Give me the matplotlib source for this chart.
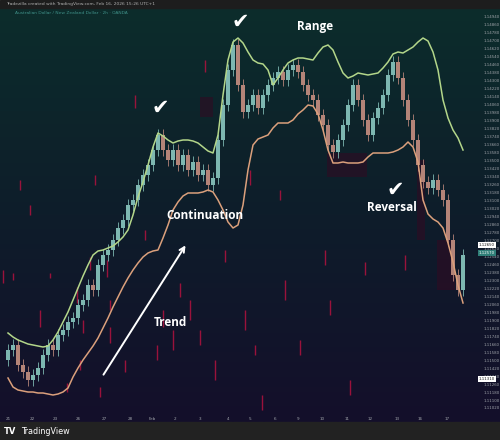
import matplotlib.pyplot as plt
import numpy as np

# AUD/NZD 2h candles (prices)
first_open = 1.1150
closes = [1.1160, 1.1165, 1.1145, 1.1138, 1.1130, 1.1135, 1.1142, 1.1155, 1.1165, 1.1160,
          1.1175, 1.1180, 1.1188, 1.1192, 1.1205, 1.1210, 1.1225, 1.1220, 1.1245, 1.1255,
          1.1260, 1.1270, 1.1282, 1.1290, 1.1305, 1.1310, 1.1325, 1.1335, 1.1345, 1.1360,
          1.1375, 1.1360, 1.1350, 1.1360, 1.1345, 1.1355, 1.1340, 1.1348, 1.1335, 1.1340,
          1.1325, 1.1332, 1.1370, 1.1405, 1.1440, 1.1465, 1.1425, 1.1398, 1.1405, 1.1415,
          1.1402, 1.1415, 1.1425, 1.1432, 1.1438, 1.1430, 1.1440, 1.1445, 1.1438, 1.1425,
          1.1415, 1.1410, 1.1395, 1.1385, 1.1365, 1.1358, 1.1370, 1.1385, 1.1405, 1.1425,
          1.1410, 1.1390, 1.1375, 1.1392, 1.1402, 1.1415, 1.1435, 1.1448, 1.1432, 1.1410,
          1.1390, 1.1370, 1.1345, 1.1328, 1.1322, 1.1330, 1.1320, 1.1310, 1.1270, 1.1235,
          1.1220, 1.1255]

upper_band = [1.1177, 1.1173, 1.1170, 1.1168, 1.1166, 1.1165, 1.1164, 1.1163, 1.1164, 1.1170,
              1.1178, 1.1188, 1.1198, 1.1210, 1.1222, 1.1234, 1.1245, 1.1255, 1.1259, 1.1260,
              1.1262, 1.1264, 1.1268, 1.1273, 1.1280, 1.1295, 1.1313, 1.1328, 1.1345, 1.1363,
              1.1377, 1.1374, 1.1370, 1.1367, 1.1369, 1.1370, 1.1370, 1.1369, 1.1367, 1.1363,
              1.1359, 1.1357, 1.1375, 1.1415, 1.1450, 1.1468, 1.1472, 1.1467, 1.1458, 1.1450,
              1.1447, 1.1446, 1.1440, 1.1425, 1.1432, 1.1440, 1.1447, 1.1450, 1.1452, 1.1452,
              1.1451, 1.1450, 1.1457, 1.1463, 1.1465, 1.1460, 1.1448, 1.1437, 1.1432, 1.1434,
              1.1437, 1.1436, 1.1435, 1.1436, 1.1437, 1.1442, 1.1448, 1.1456, 1.1458, 1.1457,
              1.1460, 1.1463, 1.1468, 1.1472, 1.1469, 1.1458, 1.1440, 1.1410, 1.1392, 1.1380,
              1.1372, 1.1360]

lower_band = [1.1132, 1.1123, 1.1120, 1.1119, 1.1118, 1.1118, 1.1117, 1.1117, 1.1116, 1.1115,
              1.1116, 1.1118, 1.1122, 1.1133, 1.1142, 1.1150, 1.1157, 1.1164, 1.1172, 1.1182,
              1.1192, 1.1203, 1.1213, 1.1223, 1.1232, 1.1240, 1.1247, 1.1253, 1.1257, 1.1259,
              1.1260, 1.1272, 1.1285, 1.1300, 1.1308, 1.1314, 1.1317, 1.1317, 1.1317, 1.1318,
              1.1320, 1.1318, 1.1310, 1.1300, 1.1288, 1.1282, 1.1285, 1.1305, 1.1340, 1.1365,
              1.1371, 1.1373, 1.1375, 1.1382, 1.1387, 1.1387, 1.1387, 1.1390, 1.1396, 1.1400,
              1.1405, 1.1404, 1.1396, 1.1380, 1.1360, 1.1347, 1.1347, 1.1348, 1.1347, 1.1347,
              1.1347, 1.1348, 1.1353, 1.1357, 1.1357, 1.1357, 1.1357, 1.1358, 1.1360, 1.1363,
              1.1368, 1.1363, 1.1348, 1.1310, 1.1296, 1.1291, 1.1288, 1.1282, 1.1267, 1.1248,
              1.1225, 1.1207]

# red glitch streaks seen in the background (bar position, top, bottom)
streak_x = [-1.0, 1.0, 8.4, 6.4, 13.8, 15.0, 11.8, 20.4, 20.4, 23.4, 16.4, 19.8, 18.4, 14.4,
            29.8, 33.0, 34.4, 31.0, 36.4, 38.4, 41.4, 43.4, 47.4, 49.4, 50.8, 55.4, 58.4,
            63.4, 64.4, 68.4, 71.4, 79.4, 4.4, 2.4, 17.4, 25.4, 39.4, 27.4, 54.4, 48.4]
streak_top = [1.1240, 1.1237, 1.1237, 1.1200, 1.1223, 1.1190, 1.1127, 1.1210, 1.1183, 1.1150,
              1.1253, 1.1250, 1.1123, 1.1150, 1.1165, 1.1180, 1.1227, 1.1200, 1.1210, 1.1180,
              1.1150, 1.1260, 1.1200, 1.1165, 1.1115, 1.1230, 1.1170, 1.1260, 1.1210, 1.1130,
              1.1248, 1.1255, 1.1305, 1.1330, 1.1335, 1.1415, 1.1450, 1.1280, 1.1320, 1.1340]
streak_bot = [1.1227, 1.1230, 1.1232, 1.1183, 1.1207, 1.1177, 1.1118, 1.1200, 1.1167, 1.1138,
              1.1240, 1.1233, 1.1113, 1.1140, 1.1150, 1.1160, 1.1213, 1.1183, 1.1190, 1.1165,
              1.1130, 1.1248, 1.1180, 1.1155, 1.1100, 1.1210, 1.1155, 1.1245, 1.1195, 1.1115,
              1.1235, 1.1240, 1.1295, 1.1320, 1.1325, 1.1402, 1.1438, 1.1270, 1.1310, 1.1325]

# dark maroon blocks behind some candles
shade_x0 = [81.8, 85.8, 63.8, 38.4]
shade_x1 = [83.4, 89.4, 71.8, 41.0]
shade_top = [1.1350, 1.1270, 1.1357, 1.1413]
shade_bot = [1.1270, 1.1220, 1.1333, 1.1393]

time_pos = [0, 4.8, 9.4, 14, 19.2, 24.4, 28.8, 33.4, 38.4, 44, 48.4, 53.4, 58, 62.8, 67.8,
            72.4, 77.8, 82.4, 87.8]
time_labels = ["21", "22", "23", "26", "27", "28", "Feb", "2", "3", "4", "5", "6", "9", "10",
               "11", "12", "13", "16", "17"]

W, H = 500, 440
fig = plt.figure(figsize=(W / 100, H / 100), dpi=100)

# background gradient (teal at top to deep navy at bottom)
bg = fig.add_axes([0, 0, 1, 1])
bg.set_axis_off()
top_c = np.array([12, 45, 44]) / 255
mid_c = np.array([14, 29, 42]) / 255
bot_c = np.array([20, 15, 43]) / 255
t = np.linspace(0, 1, 256)[:, None]
grad = np.where(t < 0.5, top_c + (mid_c - top_c) * (t / 0.5), mid_c + (bot_c - mid_c) * ((t - 0.5) / 0.5))
bg.imshow(grad[:, None, :], extent=(0, 1, 18 / H, 1 - 8 / H), aspect="auto")
bg.add_patch(plt.Rectangle((0, 1 - 8 / H), 1, 8 / H, color="#1d1d1d"))
bg.add_patch(plt.Rectangle((0, 0), 1, 18 / H, color="#222222"))
bg.set_xlim(0, 1)
bg.set_ylim(0, 1)

fig.text(0.012, 1 - 4 / H, "Tradezilla created with TradingView.com, Feb 16, 2026 15:26 UTC+1",
         fontsize=3.2, color="#b0b0b0", va="center")
fig.text(0.03, 1 - 13 / H, "Australian Dollar / New Zealand Dollar \u00b7 2h \u00b7 OANDA",
         fontsize=3.2, color="#3f9088", va="center")
fig.text(0.008, 9 / H, "TV", fontsize=6, color="white", fontweight="bold", va="center")
fig.text(0.042, 9 / H, "TradingView", fontsize=5.8, color="white", va="center")

ax = fig.add_axes([0, 25 / H, 472 / W, 405 / H])
ax.patch.set_alpha(0)
ax.set_xlim(-1.6, 92.8)
ax.set_ylim(1.1095, 1.1500)
for s in ax.spines.values():
    s.set_visible(False)

for i in range(len(shade_x0)):
    ax.fill_between([shade_x0[i], shade_x1[i]], shade_bot[i], shade_top[i],
                    color="#300b22", alpha=0.6, lw=0, zorder=1)

ax.vlines(streak_x, streak_bot, streak_top, color="#b3123f", lw=1.0, alpha=0.85, zorder=1)

# candles
n = len(closes)
x = np.arange(n)
opens = [first_open] + closes[:-1]
for i in range(n):
    o, c = opens[i], closes[i]
    col = "#7db7b1" if c >= o else "#b48478"
    lo, hi = min(o, c), max(o, c)
    ax.vlines(i, lo - 0.0006, hi + 0.0006, color=col, lw=0.6, zorder=2)
    ax.bar(i, max(hi - lo, 0.0002), bottom=lo, width=0.7, color=col, lw=0, zorder=2)

ax.plot(x, upper_band, color="#b3d68a", lw=1.1, zorder=3)
ax.plot(x, lower_band, color="#dba07c", lw=1.1, zorder=3)

# annotations
txt = dict(color="white", fontsize=8.5, fontweight="bold", family="Open Sans",
           ha="center", va="center", zorder=5)
ax.text(61.4, 1.1483, "Range", **txt)
ax.text(39.4, 1.1295, "Continuation", **txt)
ax.text(76.8, 1.1302, "Reversal", **txt)
ax.text(32.4, 1.1188, "Trend", **txt)
chk = dict(color="white", fontsize=15, ha="center", va="center", family="DejaVu Sans", zorder=5)
ax.text(30.4, 1.1402, "\u2714", **chk)
ax.text(46.4, 1.1488, "\u2714", **chk)
ax.text(77.4, 1.1320, "\u2714", **chk)
ax.annotate("", xy=(35.8, 1.1267), xytext=(18.8, 1.1133),
            arrowprops=dict(arrowstyle="->", color="white", lw=1.4, mutation_scale=9), zorder=5)

# axes ticks
ax.yaxis.tick_right()
yt = np.arange(1.1102, 1.1500, 0.0008)
ax.set_yticks(yt)
ax.set_yticklabels(["{:.5f}".format(v) for v in yt], fontsize=2.8, color="#a0a4aa")
ax.tick_params(axis="y", length=0, pad=8)
ax.set_xticks(time_pos)
ax.set_xticklabels(time_labels, fontsize=3, color="#a0a4aa")
ax.tick_params(axis="x", length=0, pad=1.5)

box = dict(fontsize=2.8, ha="left", va="center", clip_on=False, zorder=6)
ax.text(94.2, 1.1265, "1.12650", color="#111111",
        bbox=dict(boxstyle="square,pad=0.3", fc="white", ec="none"), **box)
ax.text(94.2, 1.1257, "1.12570", color="white",
        bbox=dict(boxstyle="square,pad=0.3", fc="#2f7f78", ec="none"), **box)
ax.text(94.2, 1.1131, "1.11310", color="#111111",
        bbox=dict(boxstyle="square,pad=0.3", fc="white", ec="none"), **box)

fig.savefig("out.png", dpi=100)
